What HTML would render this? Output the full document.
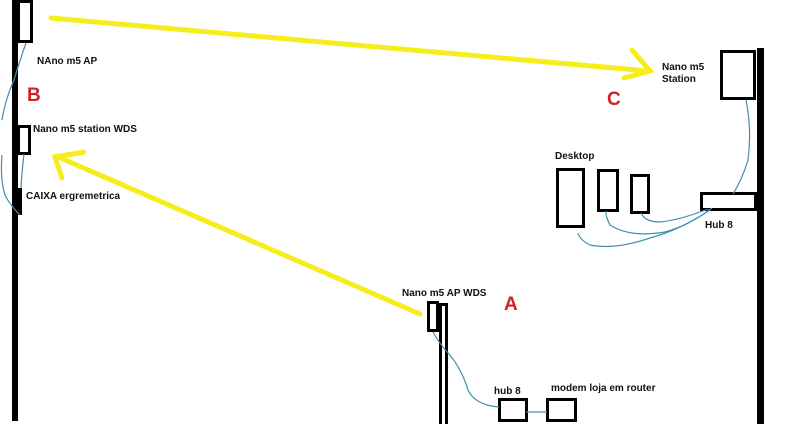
<!DOCTYPE html>
<html><head><meta charset="utf-8"><style>
html,body{margin:0;padding:0;background:#fff;width:800px;height:424px;overflow:hidden}
svg{display:block}
text{font-family:"Liberation Sans",sans-serif;font-weight:bold;font-size:10px;fill:#111}
.r{fill:#d2202a;font-size:19px}
</style></head><body>
<svg width="800" height="424" viewBox="0 0 800 424" xmlns="http://www.w3.org/2000/svg">
<!-- left pole -->
<rect x="12" y="0" width="6" height="421" fill="#000"/>
<rect x="18.5" y="1.5" width="13" height="40" fill="#fff" stroke="#000" stroke-width="3"/>
<rect x="18.5" y="126.5" width="11" height="27" fill="#fff" stroke="#000" stroke-width="3"/>
<rect x="12" y="188" width="10" height="27" fill="#000"/>
<!-- right pole -->
<rect x="757" y="48" width="7" height="376" fill="#000"/>
<rect x="721.5" y="51.5" width="33" height="47" fill="#fff" stroke="#000" stroke-width="3"/>
<rect x="701.5" y="193.5" width="54" height="16" fill="#fff" stroke="#000" stroke-width="3"/>
<rect x="557.5" y="169.5" width="26" height="57" fill="#fff" stroke="#000" stroke-width="3"/>
<rect x="598.5" y="170.5" width="19" height="40" fill="#fff" stroke="#000" stroke-width="3"/>
<rect x="631.5" y="175.5" width="17" height="37" fill="#fff" stroke="#000" stroke-width="3"/>
<!-- A pole -->
<rect x="440.5" y="304.5" width="6" height="121" fill="#fff" stroke="#000" stroke-width="3"/>
<rect x="428.5" y="302.5" width="9" height="28" fill="#fff" stroke="#000" stroke-width="3"/>
<rect x="499.5" y="399.5" width="27" height="21" fill="#fff" stroke="#000" stroke-width="3"/>
<rect x="547.5" y="399.5" width="28" height="21" fill="#fff" stroke="#000" stroke-width="3"/>
<!-- cables -->
<g fill="none" stroke="#3f8fb0" stroke-width="1.2">
<path d="M26 43 Q20 60 14 80 Q5 100 2 120"/>
<path d="M2 155 Q0 180 5 195 Q10 205 20 215"/>
<path d="M24 154 Q22 170 21 188"/>
<path d="M746 100 Q752 130 748 160 Q742 180 733 194"/>
<path d="M708 209 Q680 220 660 222 Q645 222 641 213"/>
<path d="M712 208 Q690 225 665 232 Q630 238 610 225 Q605 215 606 211"/>
<path d="M710 210 Q680 230 650 238 Q615 250 590 245 Q580 240 578 233"/>
<path d="M433 332 Q440 345 450 355 Q462 370 468 390 Q475 405 499 407"/>
<path d="M526 412 L547 412"/>
</g>
<!-- yellow arrows -->
<g stroke="#f5ee1c" stroke-width="5" fill="none" stroke-linecap="round">
<path d="M51 18 L648 71"/>
<path d="M632 50 L650 71 L624 78"/>
<path d="M420 314 L56 156"/>
<path d="M84 152 L55 157 L62 178"/>
</g>
<!-- labels -->
<text x="37" y="64">NAno m5 AP</text>
<text class="r" x="27" y="101">B</text>
<text x="33" y="132">Nano m5 station WDS</text>
<text x="26" y="199">CAIXA ergremetrica</text>
<text x="662" y="70">Nano m5</text>
<text x="662" y="82">Station</text>
<text class="r" x="607" y="105">C</text>
<text x="555" y="159">Desktop</text>
<text x="705" y="228">Hub 8</text>
<text x="402" y="296">Nano m5 AP WDS</text>
<text class="r" x="504" y="310">A</text>
<text x="494" y="394">hub 8</text>
<text x="551" y="391">modem loja em router</text>
</svg>
</body></html>
